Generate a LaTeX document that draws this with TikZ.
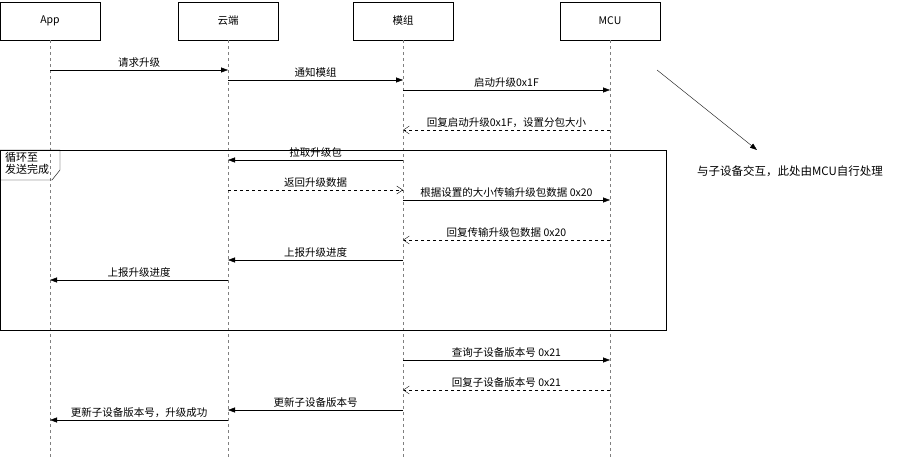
\documentclass[tikz,border=0pt]{standalone}
\usepackage{fontspec}
\setmainfont{Noto Sans CJK SC}
\usetikzlibrary{arrows.meta}
\begin{document}
\begin{tikzpicture}[x=1pt,y=-1pt,font=\fontsize{10.5}{12}\selectfont,
  part/.style={draw,minimum width=100pt,minimum height=38pt,inner sep=0pt},
  life/.style={draw,dashed,gray},
  msg/.style={-{Triangle[length=7pt,width=5pt]}},
  ret/.style={dashed,-{Straight Barb[length=6pt,width=8pt]}},
  lab/.style={above,inner sep=2pt}]
\useasboundingbox (0,0) rectangle (897,462);
\node[part] (app) at (50,21) {App};
\node[part] (cloud) at (228,21) {云端};
\node[part] (mod) at (403,21) {模组};
\node[part] (mcu) at (610,21) {MCU};
\foreach \n/\x in {app/50,cloud/228,mod/403,mcu/610}{
  \coordinate (\n e) at (\x,460);
  \draw[life] (\n.south) -- (\n e);}
% loop frame
\node[draw,minimum width=666pt,minimum height=180pt,anchor=north west,inner sep=0pt] (frame) at (0,150) {};
\draw (0,150) -- (60,150) -- (60,170) -- (52,180) -- (0,180);
\node[align=left,anchor=north west,inner sep=1pt,font=\fontsize{11}{12}\selectfont] (loop) at (4,151) {循环至\\发送完成};
\newcommand\mymsg[5]{%
  \coordinate (s) at (#2,#4); \coordinate (t) at (#3,#4);
  \draw[#1] (s) -- node[lab] {#5} (t);}
\mymsg{msg}{50}{228}{70}{请求升级}
\mymsg{msg}{228}{403}{80}{通知模组}
\mymsg{msg}{403}{610}{90}{启动升级0x1F}
\mymsg{ret}{610}{403}{130}{回复启动升级0x1F，设置分包大小}
\mymsg{msg}{403}{228}{160}{拉取升级包}
\mymsg{ret}{228}{403}{190}{返回升级数据}
\mymsg{msg}{403}{610}{200}{根据设置的大小传输升级包数据 0x20}
\mymsg{ret}{610}{403}{240}{回复传输升级包数据 0x20}
\mymsg{msg}{403}{228}{260}{上报升级进度}
\mymsg{msg}{228}{50}{280}{上报升级进度}
\mymsg{msg}{403}{610}{360}{查询子设备版本号 0x21}
\mymsg{ret}{610}{403}{390}{回复子设备版本号 0x21}
\mymsg{msg}{403}{228}{410}{更新子设备版本号}
\mymsg{msg}{228}{50}{420}{更新子设备版本号，升级成功}
\coordinate (a1) at (657,70);
\node[font=\fontsize{11.5}{13}\selectfont] (note) at (790,171) {与子设备交互，此处由MCU自行处理};
\draw[msg] (a1) -- (757,150);
\end{tikzpicture}
\end{document}
